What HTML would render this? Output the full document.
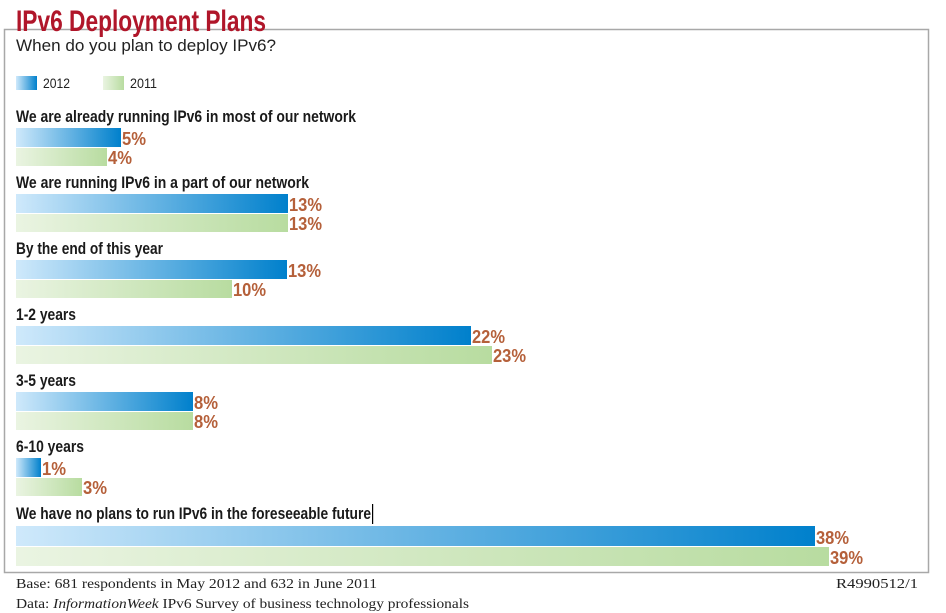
<!DOCTYPE html>
<html><head><meta charset="utf-8"><style>body{margin:0;background:#fff}svg{display:block}</style></head>
<body>
<svg width="946" height="613" viewBox="0 0 946 613" xmlns="http://www.w3.org/2000/svg" font-family="Liberation Sans, sans-serif">
<defs>
<linearGradient id="b" x1="0" x2="1"><stop offset="0" stop-color="#cfe9fb"/><stop offset="1" stop-color="#0080cc"/></linearGradient>
<linearGradient id="g" x1="0" x2="1"><stop offset="0" stop-color="#eaf4e2"/><stop offset="1" stop-color="#b8dca0"/></linearGradient>
</defs>
<rect x="4.5" y="29.5" width="924" height="543" fill="#fff" stroke="#a8a8a8" stroke-width="1.5"/>
<text x="16" y="31" font-size="30" font-weight="bold" fill="#b0162a" textLength="250" lengthAdjust="spacingAndGlyphs">IPv6 Deployment Plans</text>
<text x="16" y="51" font-size="17" fill="#222" textLength="260" lengthAdjust="spacingAndGlyphs">When do you plan to deploy IPv6?</text>
<rect x="16" y="76" width="21" height="14" fill="url(#b)"/>
<text x="43" y="88" font-size="14" fill="#222" textLength="27" lengthAdjust="spacingAndGlyphs">2012</text>
<rect x="103" y="76" width="21" height="14" fill="url(#g)"/>
<text x="130" y="88" font-size="14" fill="#222" textLength="27" lengthAdjust="spacingAndGlyphs">2011</text>
<g font-weight="bold">
<g font-size="17" fill="#1a1a1a">
<text x="16" y="122" textLength="340" lengthAdjust="spacingAndGlyphs">We are already running IPv6 in most of our network</text>
<text x="16" y="188" textLength="293" lengthAdjust="spacingAndGlyphs">We are running IPv6 in a part of our network</text>
<text x="16" y="254" textLength="147" lengthAdjust="spacingAndGlyphs">By the end of this year</text>
<text x="16" y="320" textLength="60" lengthAdjust="spacingAndGlyphs">1-2 years</text>
<text x="16" y="386" textLength="60" lengthAdjust="spacingAndGlyphs">3-5 years</text>
<text x="16" y="452" textLength="68" lengthAdjust="spacingAndGlyphs">6-10 years</text>
<text x="16" y="519" textLength="355" lengthAdjust="spacingAndGlyphs">We have no plans to run IPv6 in the foreseeable future</text>
</g>
<rect x="372" y="504" width="1.2" height="20" fill="#000"/>
<g id="bars"></g>
</g>
<g>
<rect x="16" y="128" width="105" height="19" fill="url(#b)"/><rect x="16" y="148" width="91" height="18" fill="url(#g)"/>
<rect x="16" y="194" width="272" height="19" fill="url(#b)"/><rect x="16" y="214" width="272" height="18" fill="url(#g)"/>
<rect x="16" y="260" width="271" height="19" fill="url(#b)"/><rect x="16" y="280" width="216" height="18" fill="url(#g)"/>
<rect x="16" y="326" width="455" height="19" fill="url(#b)"/><rect x="16" y="346" width="476" height="18" fill="url(#g)"/>
<rect x="16" y="392" width="177" height="19" fill="url(#b)"/><rect x="16" y="412" width="177" height="18" fill="url(#g)"/>
<rect x="16" y="458" width="25" height="19" fill="url(#b)"/><rect x="16" y="478" width="66" height="18" fill="url(#g)"/>
<rect x="16" y="526" width="799" height="20" fill="url(#b)"/><rect x="16" y="547" width="813" height="19" fill="url(#g)"/>
</g>
<g font-size="18" font-weight="bold" fill="#b5603a">
<text x="122" y="145" textLength="24" lengthAdjust="spacingAndGlyphs">5%</text>
<text x="108" y="164" textLength="24" lengthAdjust="spacingAndGlyphs">4%</text>
<text x="289" y="211" textLength="33" lengthAdjust="spacingAndGlyphs">13%</text>
<text x="289" y="230" textLength="33" lengthAdjust="spacingAndGlyphs">13%</text>
<text x="288" y="277" textLength="33" lengthAdjust="spacingAndGlyphs">13%</text>
<text x="233" y="296" textLength="33" lengthAdjust="spacingAndGlyphs">10%</text>
<text x="472" y="343" textLength="33" lengthAdjust="spacingAndGlyphs">22%</text>
<text x="493" y="362" textLength="33" lengthAdjust="spacingAndGlyphs">23%</text>
<text x="194" y="409" textLength="24" lengthAdjust="spacingAndGlyphs">8%</text>
<text x="194" y="428" textLength="24" lengthAdjust="spacingAndGlyphs">8%</text>
<text x="42" y="475" textLength="24" lengthAdjust="spacingAndGlyphs">1%</text>
<text x="83" y="494" textLength="24" lengthAdjust="spacingAndGlyphs">3%</text>
<text x="816" y="544" textLength="33" lengthAdjust="spacingAndGlyphs">38%</text>
<text x="830" y="564" textLength="33" lengthAdjust="spacingAndGlyphs">39%</text>
</g>
<g font-family="Liberation Serif, serif" font-size="14" fill="#222">
<text x="16" y="588" textLength="361" lengthAdjust="spacingAndGlyphs">Base: 681 respondents in May 2012 and 632 in June 2011</text>
<text x="836" y="588" textLength="82" lengthAdjust="spacingAndGlyphs">R4990512/1</text>
<text x="16" y="608" textLength="453" lengthAdjust="spacingAndGlyphs">Data: <tspan font-style="italic">InformationWeek</tspan> IPv6 Survey of business technology professionals</text>
</g>
</svg>
</body></html>
